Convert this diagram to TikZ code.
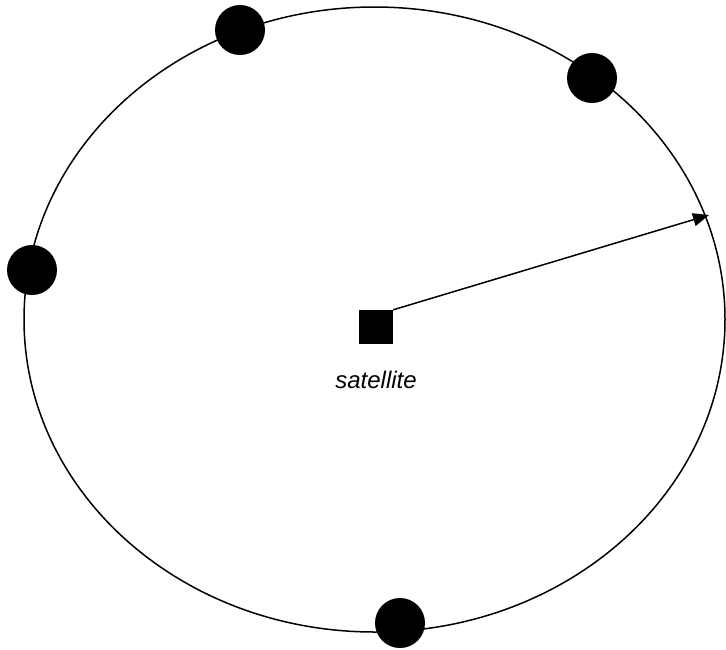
\documentclass[tikz,border=0pt]{standalone}
\usepackage{fontspec}
\setmainfont{Liberation Sans}
\usetikzlibrary{arrows.meta,positioning}

\begin{document}
\begin{tikzpicture}[
  x=1pt, y=-1pt,
  station/.style={circle, fill=black, minimum size=50pt, inner sep=0pt},
  sat/.style={rectangle, fill=black, minimum size=34pt, inner sep=0pt},
  arr/.style={-{Triangle[length=16pt,width=13pt]}, line width=1.5pt},
]
\useasboundingbox (0,0) rectangle (726,649);
\draw[line width=1.5pt] (374.5,319.5) ellipse [x radius=350.5, y radius=312.5];
\node[sat] (satellite) at (376,327) {};
\node[below=23pt of satellite, font=\itshape\fontsize{24}{28}\selectfont] (lbl) {satellite};
\coordinate (rim) at (709,215);
\draw[arr] (satellite.north east) -- (rim);
\node[station] (s1) at (240,30) {};
\node[station] (s2) at (592,78) {};
\node[station] (s3) at (32,270) {};
\node[station] (s4) at (400,623) {};
\end{tikzpicture}
\end{document}
